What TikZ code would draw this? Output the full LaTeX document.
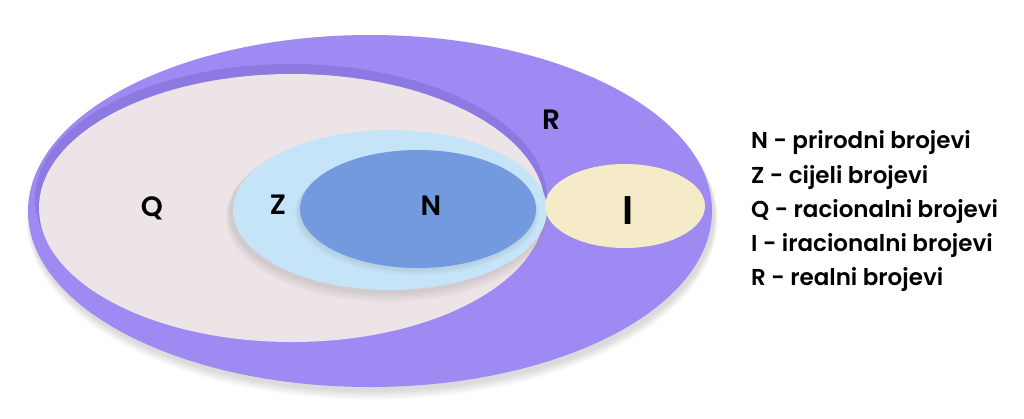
\documentclass[tikz,border=0pt]{standalone}
\usepackage{fontspec}
\setmainfont{Poppins}[UprightFont=* SemiBold, BoldFont=* Bold]
\begin{document}
\begin{tikzpicture}[x=1pt,y=-1pt,
  lbl/.style={inner sep=0pt, text=black, font=\fontsize{28}{30}\selectfont},
  leg/.style={inner sep=0pt, anchor=west, text=black, font=\fontsize{23}{25}\selectfont}]
\definecolor{rcol}{HTML}{9F8AF3}
\definecolor{rdark}{HTML}{8D79E2}
\definecolor{qcol}{HTML}{EDE4E7}
\definecolor{zcol}{HTML}{C6E4F8}
\definecolor{ncol}{HTML}{7399DE}
\definecolor{icol}{HTML}{F6EBC9}
\fill[white] (0,0) rectangle (1024,418);
\useasboundingbox (0,0) rectangle (1024,418);
% soft shadow of outer ellipse
\foreach \k in {1,...,6}
  \fill[black, opacity=0.025] (372,214+\k) ellipse [x radius=342+\k*0.6, y radius=176+\k*0.6];
% outer R
\fill[rcol] (370,211) ellipse [x radius=342, y radius=176];
% darker band left-top of Q
\begin{scope}
  \clip (370,211) ellipse [x radius=342, y radius=176];
  \fill[rdark] (291,199) ellipse [x radius=256, y radius=135];
\end{scope}
% Q
\fill[qcol] (292,208) ellipse [x radius=253, y radius=134];
% Z shadow
\foreach \k in {1,...,5}
  \fill[black!40!qcol, opacity=0.06] (388,212+\k) ellipse [x radius=157+\k, y radius=80+\k];
% Z
\fill[zcol] (390,210) ellipse [x radius=157, y radius=80];
% N shadow
\foreach \k in {1,...,4}
  \fill[black!30!zcol, opacity=0.07] (417,210+\k) ellipse [x radius=118+\k, y radius=59+\k*0.5];
% N
\fill[ncol] (418,209) ellipse [x radius=118, y radius=59];
% I
\fill[icol] (625,206) ellipse [x radius=80, y radius=42];
% labels
\node[lbl] (lq) at (152,208) {Q};
\node[lbl] (lz) at (278,205) {Z};
\node[lbl] (ln) at (431,206) {N};
\node[lbl] (lr) at (551,120) {R};
\node[lbl, font=\fontsize{40}{42}\selectfont] (li) at (628,211) {I};
% legend
\node[leg] (l1) at (751,143) {N - prirodni brojevi};
\node[leg] (l2) at (751,178) {Z - cijeli brojevi};
\node[leg] (l3) at (751,212) {Q - racionalni brojevi};
\node[leg] (l4) at (751,246) {I - iracionalni brojevi};
\node[leg] (l5) at (751,280) {R - realni brojevi};
\end{tikzpicture}
\end{document}
